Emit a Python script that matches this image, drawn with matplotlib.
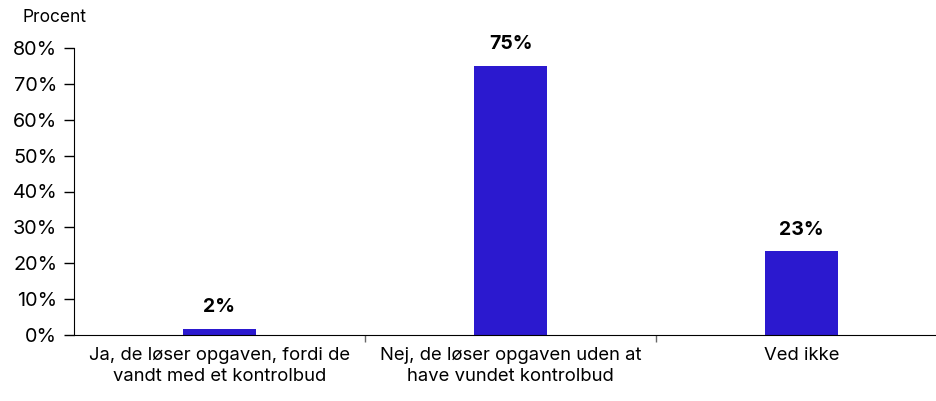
import matplotlib.pyplot as plt

categories = ["Ja, de løser opgaven, fordi de\nvandt med et kontrolbud",
              "Nej, de løser opgaven uden at\nhave vundet kontrolbud",
              "Ved ikke"]
values = [1.7, 75, 23.4]
value_labels = ["2%", "75%", "23%"]
yticks = [0, 10, 20, 30, 40, 50, 60, 70, 80]

plt.rcParams['font.family'] = ['Inter', 'DejaVu Sans']

fig = plt.figure(figsize=(9.36, 4.01), dpi=100)
ax = fig.add_axes([74 / 936, 1 - 335 / 401, 862 / 936, 287 / 401])

x = range(len(categories))
ax.bar(x, values, width=0.25, color='#2B19CF', zorder=2)

for xi, v, lab in zip(x, values, value_labels):
    ax.annotate(lab, (xi, v), xytext=(0, 9), textcoords='offset points',
                ha='center', va='bottom', fontsize=14, fontweight='bold')

ax.set_yticks(yticks)
ax.set_yticklabels([f"{t}%" for t in yticks], fontsize=14.3)
ax.set_xticks(list(x))
ax.set_xticklabels(categories, fontsize=13.3, linespacing=1.25)
ax.tick_params(axis='x', length=0, pad=9)
ax.set_xticks([0.5, 1.5], minor=True)
ax.tick_params(axis='x', which='minor', length=5, direction='out', width=1,
               color='#666666')
ax.tick_params(axis='y', length=7, width=1, pad=5)
# limits last, set_xticks may widen them
ax.set_xlim(-0.5, -0.5 + 862 / 291)
ax.set_ylim(0, 80)

for s in ['top', 'right']:
    ax.spines[s].set_visible(False)

fig.text(22 / 936, 1 - 18 / 401, "Procent", fontsize=12.5, ha='left', va='center')

fig.savefig('out.png', dpi=100)
